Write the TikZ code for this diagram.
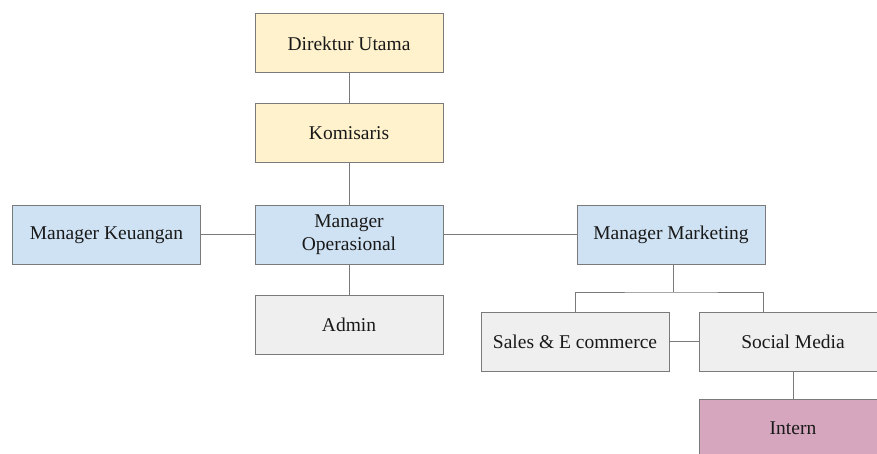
\documentclass[tikz,border=0pt]{standalone}
\usepackage{fontspec}
\setmainfont{Liberation Serif}
\definecolor{cyellow}{HTML}{FFF2CC}
\definecolor{cblue}{HTML}{CFE2F3}
\definecolor{cgrey}{HTML}{EFEFEF}
\definecolor{cpink}{HTML}{D5A6BD}
\definecolor{cline}{HTML}{7A7A7A}
\begin{document}
\begin{tikzpicture}[x=1pt,y=-1pt,
  box/.style={draw=cline,line width=1pt,minimum width=188pt,minimum height=59pt,inner sep=2pt,
    font=\fontsize{19.5}{23}\selectfont,text=black!90,align=center},
  conn/.style={draw=cline,line width=1pt}]
\useasboundingbox (0,0) rectangle (877,454);
\clip (0,0) rectangle (877,454);
\fill[white] (0,0) rectangle (877,454);
\node[box,fill=cyellow] (dir) at (349,43.5) {Direktur Utama};
\node[box,fill=cyellow] (kom) at (349,133.5) {Komisaris};
\node[box,fill=cblue] (op) at (349,235) {Manager\\Operasional};
\node[box,fill=cblue] (keu) at (106.5,235) {Manager Keuangan};
\node[box,fill=cgrey] (adm) at (349,324.5) {Admin};
\node[box,fill=cblue] (mkt) at (671,235) {Manager Marketing};
\node[box,fill=cgrey] (sales) at (575,341.5) {Sales \& E commerce};
\node[box,fill=cgrey] (soc) at (793,341.5) {Social Media};
\node[box,fill=cpink] (int) at (793,428.5) {Intern};
\coordinate (br) at (673,292);
\draw[conn] (dir) -- (kom);
\draw[conn] (kom) -- (op);
\draw[conn] (op) -- (adm);
\draw[conn] (keu) -- (op);
\draw[conn] (op) -- (mkt);
\draw[conn] (mkt.south -| br) -- (br);
\draw[conn] (sales.north) |- (br) -| ([xshift=-30pt]soc.north);
\draw[conn] (sales) -- (soc);
\draw[conn] (soc) -- (int);
\end{tikzpicture}
\end{document}
